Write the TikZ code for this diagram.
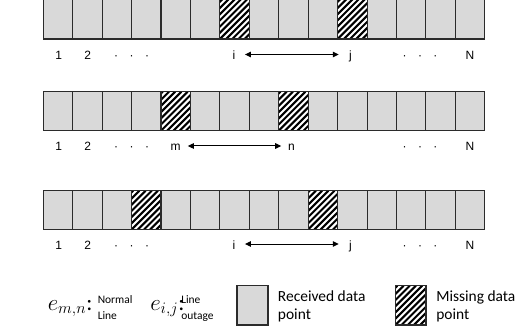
\documentclass[tikz,border=0pt]{standalone}
\usepackage{fontspec}
\setmainfont{Carlito}
\newfontfamily\lblfont{Liberation Sans}
\usetikzlibrary{arrows.meta}

\definecolor{cellgray}{HTML}{D9D9D9}
\definecolor{cellline}{HTML}{2B2B2B}

\tikzset{
  cellbox/.style={fill=cellgray, draw=cellline, line width=0.8pt},
  edgebox/.style={draw=cellline, line width=0.8pt},
  idx/.style={font=\lblfont\fontsize{9}{10}\selectfont, inner sep=0pt,
              text height=7.5pt, text depth=0pt, anchor=base},
  dotsl/.style={font=\lblfont\fontsize{9}{10}\selectfont, inner sep=0pt, anchor=base},
  span/.style={{Triangle[length=4.5pt,width=4.2pt]}-{Triangle[length=4.5pt,width=4.2pt]},
               line width=0.75pt},
  mathlbl/.style={font=\fontsize{17}{20}\selectfont, inner sep=0pt, anchor=base west},
  smalltxt/.style={font=\fontsize{8.6}{12}\selectfont, inner sep=0pt, align=left, anchor=base west},
  legtxt/.style={font=\fontsize{11.6}{13.1}\selectfont, inner sep=0pt, align=left, anchor=base west},
}

% one hatched cell: corner (x,y) in pixel units, width, height
\newcommand\hatchcell[4]{%
  \begin{scope}
    \clip (#1,#2) rectangle ++({#3},{#4});
    \fill[white] (#1,#2) rectangle ++({#3},{#4});
    \foreach \s in {-8,...,6}
      \draw[line width=1.55pt] ({#1+\s*6.2},{#2+(#4)}) -- ++({#4},{-(#4)});
  \end{scope}
  \draw[edgebox] (#1,#2) rectangle ++({#3},{#4});
}

% a row of 15 cells with two missing ones: top y, bottom y, missing index 1, missing index 2
\newcommand\datarow[4]{%
  \foreach \k in {0,...,14}
    \draw[cellbox] ({43.3+\k*29.43},#1) rectangle ++(29.43,{#2-(#1)});
  \hatchcell{43.3+#3*29.43}{#1}{29.43}{#2-(#1)}
  \hatchcell{43.3+#4*29.43}{#1}{29.43}{#2-(#1)}
}

\begin{document}
\begin{tikzpicture}[x=0.75pt, y=-0.75pt]
\useasboundingbox (0,0) rectangle (516,334);

% ---- row 1 ----
\datarow{-1.2}{39}{6}{10}
\node[idx] (a1) at (58.8,59.5) {1};
\node[idx] (a2) at (87.6,59.5) {2};
\node[dotsl] (ad1) at (131.7,59.5) {·\hspace{8.6pt}·\hspace{8.6pt}·};
\node[idx] (ai) at (234,59.5) {i};
\node[idx] (aj) at (350.5,59.5) {j};
\node[dotsl] (ad2) at (420,59.5) {·\hspace{8.6pt}·\hspace{8.6pt}·};
\node[idx] (aN) at (470,59.5) {N};
\draw[span, shorten <=7.0pt, shorten >=7.6pt] (ai.east) -- (aj.west);

% ---- row 2 ----
\datarow{91.7}{130.7}{4}{8}
\node[idx] (b1) at (58.8,151) {1};
\node[idx] (b2) at (87.6,151) {2};
\node[dotsl] (bd1) at (131.7,151) {·\hspace{8.6pt}·\hspace{8.6pt}·};
\node[idx] (bm) at (175.7,151) {m};
\node[idx] (bn) at (291.5,151) {n};
\node[dotsl] (bd2) at (420,151) {·\hspace{8.6pt}·\hspace{8.6pt}·};
\node[idx] (bN) at (470,151) {N};
\draw[span, shorten <=5.2pt, shorten >=5.0pt] (bm.east) -- (bn.west);

% ---- row 3 ----
\datarow{190.7}{229.5}{3}{9}
\node[idx] (c1) at (58.8,249) {1};
\node[idx] (c2) at (87.6,249) {2};
\node[dotsl] (cd1) at (131.7,249) {·\hspace{8.6pt}·\hspace{8.6pt}·};
\node[idx] (ci) at (234,249) {i};
\node[idx] (cj) at (350.5,249) {j};
\node[dotsl] (cd2) at (420,249) {·\hspace{8.6pt}·\hspace{8.6pt}·};
\node[idx] (cN) at (470,249) {N};
\draw[span, shorten <=7.0pt, shorten >=7.6pt] (ci.east) -- (cj.west);

% ---- legend ----
\node[mathlbl] (emn) at (47.5,310) {$e_{m,n}$:\kern-1.6pt};
\node[smalltxt] (emntxt) at (97.5,319) {Normal\\Line};
\node[mathlbl] (eij) at (150,310) {$e_{i,j}$:\kern-1.6pt};
\node[smalltxt] (eijtxt) at (181,319) {Line\\outage};

\draw[cellbox] (237,285.7) rectangle (268,325);
\node[legtxt] (rtxt) at (277.7,319) {Received data\\point};

\hatchcell{395.3}{285.7}{30.7}{39.3}
\node[legtxt] (mtxt) at (436,319) {Missing data\\point};
\end{tikzpicture}
\end{document}
